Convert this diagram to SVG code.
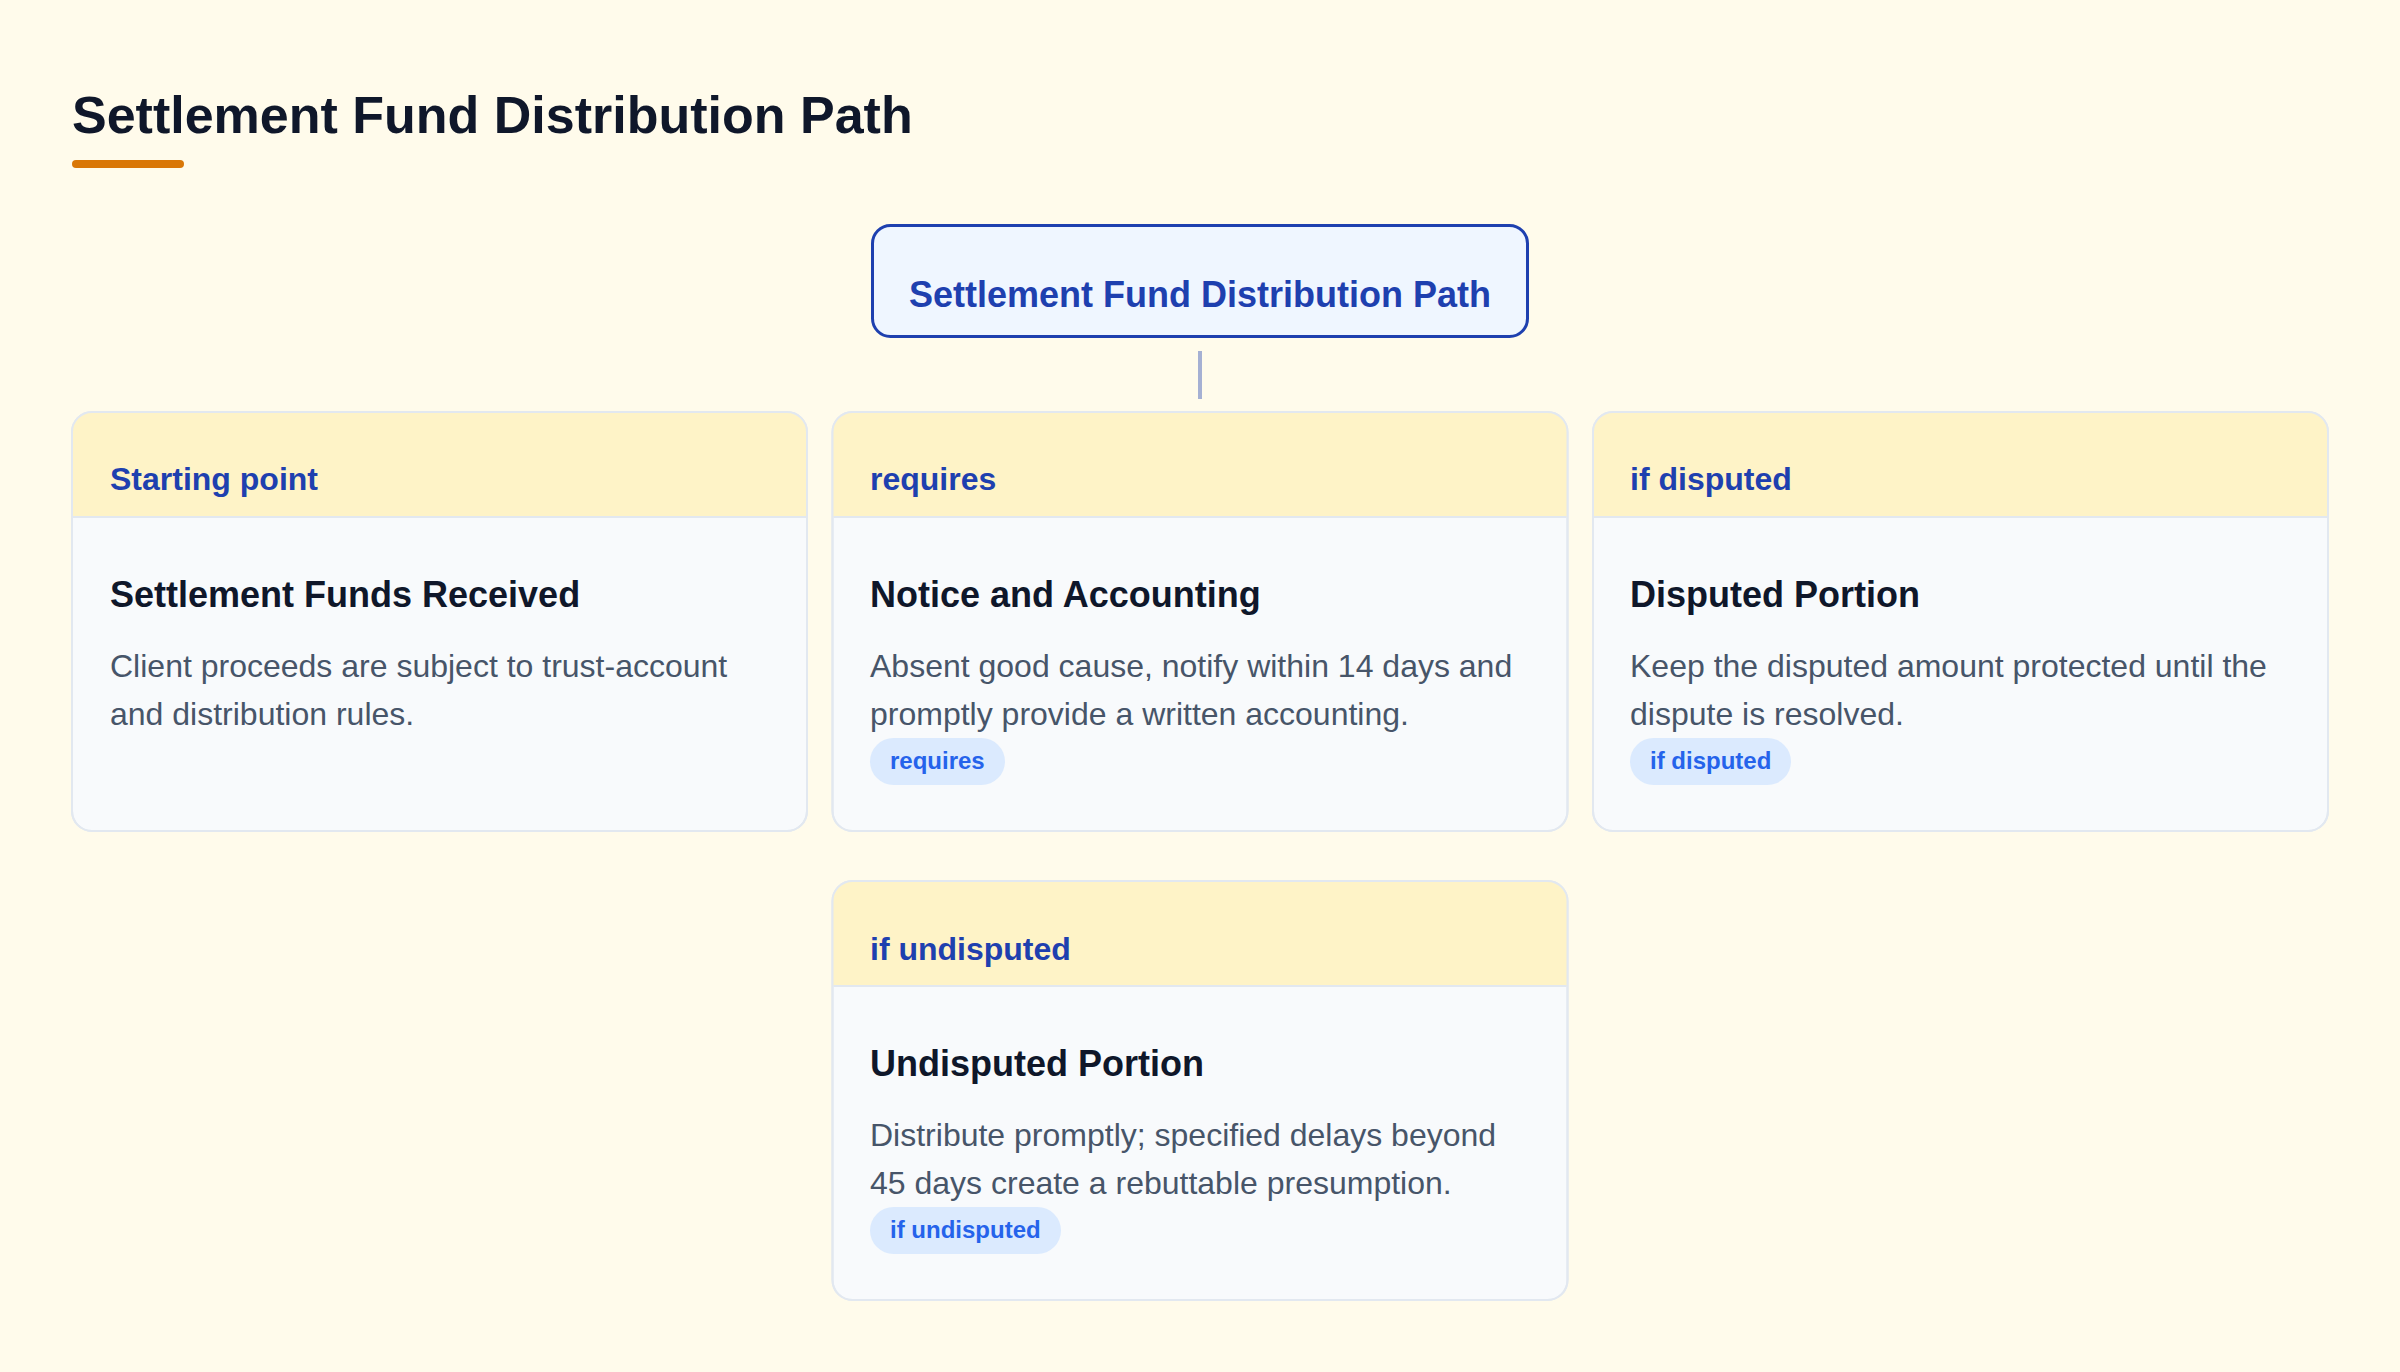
<svg xmlns="http://www.w3.org/2000/svg" width="2400" height="1372" viewBox="0 0 2400 1372">
  <style>
    text { font-family: "Liberation Sans", Arial, "DejaVu Sans", sans-serif; }
    .page-title { font-size: 52px; font-weight: 700; fill: #0f172a; }
    .root-box { fill: #eff6ff; stroke: #1e40af; stroke-width: 3; }
    .root-text { font-size: 36px; font-weight: 700; fill: #1e40af; }
    .card { fill: #f8fafc; stroke: #e2e8f0; stroke-width: 2; }
    .card-head { fill: #fef3c7; }
    .head-line { stroke: #e2e8f0; stroke-width: 2; }
    .head-text { font-size: 32px; font-weight: 700; fill: #1e40af; }
    .card-title { font-size: 36px; font-weight: 700; fill: #0f172a; }
    .card-body { font-size: 32px; fill: #475569; }
    .pill { fill: #dbeafe; }
    .pill-text { font-size: 24px; font-weight: 700; fill: #2563eb; }
    .connector { stroke: #a5b0d3; stroke-width: 4; fill: none; }
  </style>
  <defs>
    <clipPath id="clip1"><rect x="72" y="412" width="735" height="419" rx="20"/></clipPath>
    <clipPath id="clip2"><rect x="832.5" y="412" width="735" height="419" rx="20"/></clipPath>
    <clipPath id="clip3"><rect x="1593" y="412" width="735" height="419" rx="20"/></clipPath>
    <clipPath id="clip4"><rect x="832.5" y="881" width="735" height="419" rx="20"/></clipPath>
  </defs>

  <rect x="0" y="0" width="2400" height="1372" fill="#fffbeb"/>

  <g id="header">
    <text class="page-title" x="72" y="133">Settlement Fund Distribution Path</text>
    <rect x="72" y="160" width="112" height="8" rx="4" fill="#d97706"/>
  </g>

  <g id="connectors">
    <line class="connector" x1="1200" y1="351" x2="1200" y2="399"/>
  </g>

  <g id="root">
    <rect class="root-box" x="872.5" y="225.5" width="655" height="111" rx="18"/>
    <text class="root-text" x="1200" y="307" text-anchor="middle">Settlement Fund Distribution Path</text>
  </g>

  <g id="node-received">
    <rect class="card" x="72" y="412" width="735" height="419" rx="20"/>
    <rect class="card-head" x="72" y="412" width="735" height="105" clip-path="url(#clip1)"/>
    <line class="head-line" x1="73" y1="517" x2="806" y2="517"/>
    <rect x="72" y="412" width="735" height="419" rx="20" fill="none" stroke="#e2e8f0" stroke-width="2"/>
    <text class="head-text" x="110" y="490">Starting point</text>
    <text class="card-title" x="110" y="607">Settlement Funds Received</text>
    <text class="card-body" x="110" y="677">Client proceeds are subject to trust-account</text>
    <text class="card-body" x="110" y="725">and distribution rules.</text>
  </g>

  <g id="node-notice">
    <rect class="card" x="832.5" y="412" width="735" height="419" rx="20"/>
    <rect class="card-head" x="832.5" y="412" width="735" height="105" clip-path="url(#clip2)"/>
    <line class="head-line" x1="833.5" y1="517" x2="1566.5" y2="517"/>
    <rect x="832.5" y="412" width="735" height="419" rx="20" fill="none" stroke="#e2e8f0" stroke-width="2"/>
    <text class="head-text" x="870" y="490">requires</text>
    <text class="card-title" x="870" y="607">Notice and Accounting</text>
    <text class="card-body" x="870" y="677">Absent good cause, notify within 14 days and</text>
    <text class="card-body" x="870" y="725">promptly provide a written accounting.</text>
    <rect class="pill" x="870" y="738" width="135" height="47" rx="23.5"/>
    <text class="pill-text" x="890" y="769">requires</text>
  </g>

  <g id="node-disputed">
    <rect class="card" x="1593" y="412" width="735" height="419" rx="20"/>
    <rect class="card-head" x="1593" y="412" width="735" height="105" clip-path="url(#clip3)"/>
    <line class="head-line" x1="1594" y1="517" x2="2327" y2="517"/>
    <rect x="1593" y="412" width="735" height="419" rx="20" fill="none" stroke="#e2e8f0" stroke-width="2"/>
    <text class="head-text" x="1630" y="490">if disputed</text>
    <text class="card-title" x="1630" y="607">Disputed Portion</text>
    <text class="card-body" x="1630" y="677">Keep the disputed amount protected until the</text>
    <text class="card-body" x="1630" y="725">dispute is resolved.</text>
    <rect class="pill" x="1630" y="738" width="161" height="47" rx="23.5"/>
    <text class="pill-text" x="1650" y="769">if disputed</text>
  </g>

  <g id="node-undisputed">
    <rect class="card" x="832.5" y="881" width="735" height="419" rx="20"/>
    <rect class="card-head" x="832.5" y="881" width="735" height="105" clip-path="url(#clip4)"/>
    <line class="head-line" x1="833.5" y1="986" x2="1566.5" y2="986"/>
    <rect x="832.5" y="881" width="735" height="419" rx="20" fill="none" stroke="#e2e8f0" stroke-width="2"/>
    <text class="head-text" x="870" y="960">if undisputed</text>
    <text class="card-title" x="870" y="1076">Undisputed Portion</text>
    <text class="card-body" x="870" y="1146">Distribute promptly; specified delays beyond</text>
    <text class="card-body" x="870" y="1194">45 days create a rebuttable presumption.</text>
    <rect class="pill" x="870" y="1207" width="191" height="47" rx="23.5"/>
    <text class="pill-text" x="890" y="1238">if undisputed</text>
  </g>
</svg>
